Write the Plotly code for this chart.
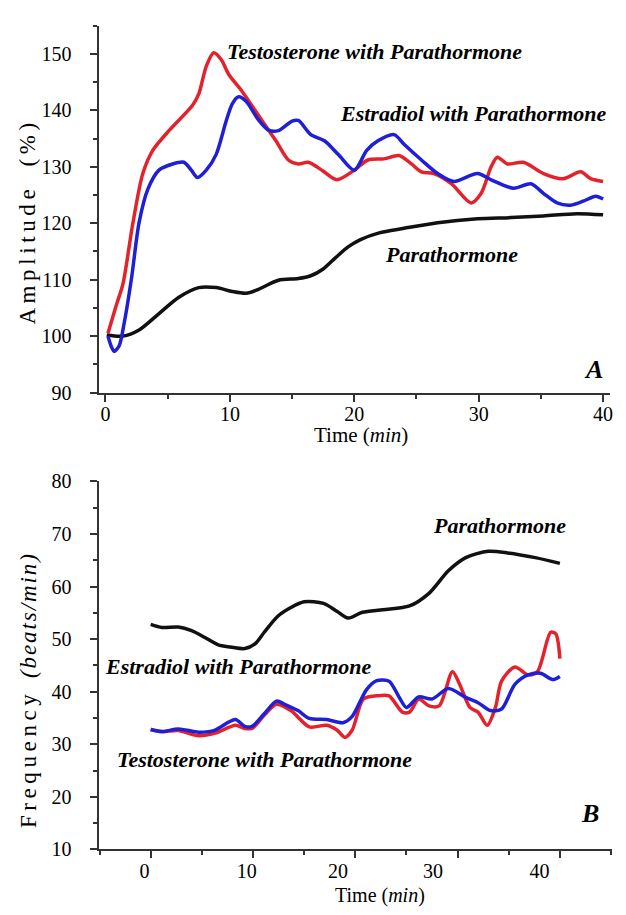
import plotly.graph_objects as go

# ---------------- Panel A: Amplitude (%) ----------------
a_testo_t = [0.2, 0.9, 1.4, 2.2, 3.0, 3.8, 5.1, 7.0, 7.5, 8.1, 8.7, 9.3, 9.9, 11.0, 12.6, 13.7, 14.7, 15.5, 16.3,
             17.4, 18.6, 20.0, 21.1, 22.4, 23.6, 24.6, 25.4, 26.4, 27.8, 29.4, 30.2, 31.0, 31.5, 32.3, 33.6,
             35.2, 36.8, 38.2, 39.0, 40.0]
a_testo_v = [100.5, 105.7, 109.2, 120.0, 128.8, 132.9, 136.4, 140.9, 142.9, 147.8, 150.2, 149.0, 146.4, 143.3,
             138.1, 134.6, 131.2, 130.5, 130.8, 129.4, 127.7, 129.4, 131.2, 131.4, 132.0, 130.5, 129.1, 128.8,
             127.0, 123.6, 125.3, 130.0, 131.7, 130.5, 130.8, 128.8, 127.9, 129.1, 127.9, 127.4]

a_estra_t = [0.2, 0.5, 0.7, 1.1, 1.5, 2.1, 2.7, 3.4, 4.3, 5.4, 6.3, 6.9, 7.4, 8.1, 8.9, 9.7, 10.2, 10.7, 11.3,
             12.3, 13.1, 13.9, 15.0, 15.5, 16.5, 17.6, 18.7, 20.0, 21.0, 21.9, 23.2, 24.0, 25.4, 26.7, 28.0,
             29.9, 31.0, 32.8, 34.2, 35.2, 36.3, 37.4, 38.4, 39.4, 40.0]
a_estra_v = [100.0, 98.0, 97.3, 98.3, 102.3, 110.4, 120.1, 126.0, 129.4, 130.5, 130.8, 129.4, 128.1, 129.4,
             132.2, 138.1, 141.2, 142.4, 141.6, 138.3, 136.5, 136.4, 138.1, 138.2, 135.7, 134.6, 132.2, 129.4,
             132.9, 134.6, 135.7, 134.0, 131.2, 128.8, 127.4, 128.8, 127.7, 126.2, 127.0, 125.3, 123.6, 123.2,
             123.9, 124.8, 124.3]

a_pth_t = [0.1, 1.4, 2.7, 4.3, 5.9, 7.5, 8.9, 10.2, 11.3, 12.3, 13.9, 15.5, 16.5, 17.5, 18.5, 19.5, 20.5,
           22.0, 24.0, 26.7, 29.9, 32.6, 35.2, 37.9, 40.0]
a_pth_v = [100.2, 100.0, 101.1, 104.0, 106.9, 108.6, 108.6, 107.9, 107.6, 108.3, 109.9, 110.2, 110.7, 111.9,
           113.9, 115.8, 117.1, 118.3, 119.1, 120.1, 120.8, 121.0, 121.3, 121.7, 121.5]

a_xticks = [0, 10, 20, 30, 40]
a_yticks = [90, 100, 110, 120, 130, 140, 150]

# ---------------- Panel B: Frequency (beats/min) ----------------
b_pth_t = [0.0, 1.1, 2.7, 4.0, 5.3, 6.6, 7.8, 9.2, 10.2, 11.1, 12.4, 13.7, 15.0, 16.9, 18.2, 19.3, 20.7,
           22.7, 25.3, 27.2, 29.1, 30.8, 33.0, 34.9, 37.6, 40.0]
b_pth_v = [52.8, 52.2, 52.3, 51.6, 50.3, 48.9, 48.5, 48.2, 49.1, 51.3, 54.3, 56.0, 57.1, 56.8, 55.3, 54.0,
           55.1, 55.6, 56.3, 58.7, 63.0, 65.5, 66.7, 66.4, 65.5, 64.4]

b_estra_t = [0.0, 1.1, 2.7, 4.7, 6.3, 7.6, 8.3, 9.2, 9.9, 11.1, 12.3, 13.1, 14.4, 15.5, 17.2, 18.8, 19.7,
             21.1, 22.1, 23.3, 24.3, 25.0, 26.2, 27.5, 29.1, 30.8, 32.0, 33.2, 34.3, 35.6, 36.9, 38.1, 39.3, 40.0]
b_estra_v = [32.8, 32.4, 32.9, 32.3, 32.7, 34.2, 34.7, 33.4, 33.4, 35.8, 38.2, 37.6, 36.4, 34.9, 34.7, 34.1,
             35.3, 40.4, 42.1, 42.0, 38.9, 37.0, 39.0, 38.6, 40.6, 38.9, 37.9, 36.4, 36.7, 41.4, 43.2, 43.5,
             42.3, 42.9]

b_testo_t = [0.0, 1.1, 2.7, 4.7, 6.3, 8.3, 9.2, 9.9, 11.1, 12.3, 13.7, 15.5, 17.2, 18.2, 19.0, 19.7, 20.8,
             22.1, 23.3, 24.6, 25.3, 26.2, 27.2, 28.2, 29.5, 30.2, 31.2, 32.0, 32.9, 33.7, 34.3, 35.6, 36.9,
             37.8, 39.1, 39.6, 40.0]
b_testo_v = [32.8, 32.4, 32.6, 31.6, 32.1, 33.6, 33.0, 33.0, 35.5, 37.6, 36.4, 33.3, 33.6, 32.7, 31.3, 32.7,
             38.6, 39.2, 39.2, 36.1, 36.1, 38.6, 37.3, 37.3, 43.8, 41.4, 37.0, 36.1, 33.6, 37.0, 42.0, 44.7,
             43.2, 43.8, 51.3, 51.0, 46.3]

b_xticks = [0, 10, 20, 30, 40]
b_xtick_text = ["0", "10", "20", "30", "40"]
b_xlabel_pos = [-0.6, 9.4, 18.3, 27.6, 38.0]   # printed label positions (offset from ticks in the original)
b_yticks = [10, 20, 30, 40, 50, 60, 70, 80]

RED = "#e3222b"
BLUE = "#1f1fd8"
BLACK = "#111111"
FONT = "Liberation Serif"
W, H = 626, 915
SP = "\u2009"   # thin letter spacing
HSP = "\u200a"  # hair letter spacing

fig = go.Figure()

def line(t, v, color, xa, ya):
    fig.add_trace(go.Scatter(x=t, y=v, mode="lines", xaxis=xa, yaxis=ya,
                             line=dict(color=color, width=3.5, shape="spline", smoothing=0.8),
                             hoverinfo="skip", showlegend=False))

line(a_pth_t, a_pth_v, BLACK, "x", "y")
line(a_testo_t, a_testo_v, RED, "x", "y")
line(a_estra_t, a_estra_v, BLUE, "x", "y")

line(b_pth_t, b_pth_v, BLACK, "x2", "y2")
line(b_testo_t, b_testo_v, RED, "x2", "y2")
line(b_estra_t, b_estra_v, BLUE, "x2", "y2")
# invisible trace carrying the tick-label overlay axis of panel B
fig.add_trace(go.Scatter(x=[b_xticks[0], b_xticks[-1]], y=[b_yticks[0], b_yticks[0]], mode="lines",
                         xaxis="x3", yaxis="y2", line=dict(width=0), opacity=0,
                         hoverinfo="skip", showlegend=False))

axis_common = dict(showgrid=False, zeroline=False, showline=True, linecolor="#333", linewidth=2,
                   ticks="outside", tickcolor="#333", tickwidth=2, ticklen=7,
                   tickfont=dict(family=FONT, size=20, color="black"))
minor_common = dict(ticklen=4, tickcolor="#333", tickwidth=2, ticks="outside")

fig.update_layout(
    width=W, height=H, margin=dict(l=0, r=0, t=0, b=0),
    paper_bgcolor="white", plot_bgcolor="white",
    xaxis=dict(domain=[99 / W, 613 / W], range=[-0.56, 40.56], tickvals=a_xticks,
               minor=dict(dtick=5, tick0=0, **minor_common),
               anchor="y", ticklabelstandoff=-5, **axis_common),
    yaxis=dict(domain=[1 - 391 / H, 1 - 15 / H], range=[90, 155], tickvals=a_yticks,
               minor=dict(dtick=5, tick0=90, **minor_common),
               anchor="x", ticklabelstandoff=14, **axis_common),
    xaxis2=dict(domain=[99 / W, 615 / W], range=[-5.1, 45.1], tickvals=b_xticks, showticklabels=False,
                minor=dict(dtick=5, tick0=0, **minor_common),
                anchor="y2", **axis_common),
    xaxis3=dict(domain=[99 / W, 615 / W], range=[-5.1, 45.1], tickvals=b_xlabel_pos, ticktext=b_xtick_text,
                overlaying="x2", anchor="y2", side="bottom", showline=False, showgrid=False, zeroline=False,
                ticks="outside", ticklen=7, tickcolor="rgba(0,0,0,0)", ticklabelstandoff=-3,
                tickfont=dict(family=FONT, size=20, color="black")),
    yaxis2=dict(domain=[1 - 859 / H, 1 - 482 / H], range=[10, 80], tickvals=b_yticks,
                minor=dict(dtick=5, tick0=10, **minor_common),
                anchor="x2", ticklabelstandoff=14, **axis_common),
)

def ann(text, px, py, size, xanchor="left"):
    fig.add_annotation(text="<b><i>" + text + "</i></b>", xref="paper", yref="paper", x=px / W, y=1 - py / H,
                       xanchor=xanchor, yanchor="middle", showarrow=False,
                       font=dict(family=FONT, size=size, color="black"))

# Panel A labels
ann("Testosterone with Parathormone", 226, 42, 22)
ann("Estradiol with Parathormone", 340, 105, 22)
ann("Parathormone", 385, 250, 22)
ann("A", 596, 367, 26, xanchor="center")
# Panel B labels
ann("Parathormone", 433, 527, 22)
ann("Estradiol with Parathormone", 103, 672, 22)
ann("Testosterone with Parathormone", 116, 767, 22)
ann("B", 593, 822, 26, xanchor="center")

def spaced(s, sp):
    return sp.join(list(s))

amp_title = spaced("Amplitude", SP) + "\u2003" + spaced("(%)", SP)
freq_title = spaced("Frequency", SP) + "\u2002\u2009" + "<i>" + spaced("(beats/min)", HSP) + "</i>"

fig.add_annotation(text=amp_title, xref="paper", yref="paper", x=28 / W, y=1 - 218 / H,
                   xanchor="center", yanchor="middle", showarrow=False, textangle=-90,
                   font=dict(family=FONT, size=23, color="black"))
fig.add_annotation(text="Time (<i>min</i>)", xref="paper", yref="paper", x=363 / W, y=1 - 434 / H,
                   xanchor="center", yanchor="middle", showarrow=False,
                   font=dict(family=FONT, size=21, color="black"))
fig.add_annotation(text=freq_title, xref="paper", yref="paper",
                   x=28 / W, y=1 - 697 / H,
                   xanchor="center", yanchor="middle", showarrow=False, textangle=-90,
                   font=dict(family=FONT, size=23, color="black"))
fig.add_annotation(text="Time (<i>min</i>)", xref="paper", yref="paper", x=382 / W, y=0,
                   xanchor="center", yanchor="bottom", yshift=-5, showarrow=False,
                   font=dict(family=FONT, size=20, color="black"))

fig.write_html("out.html")
